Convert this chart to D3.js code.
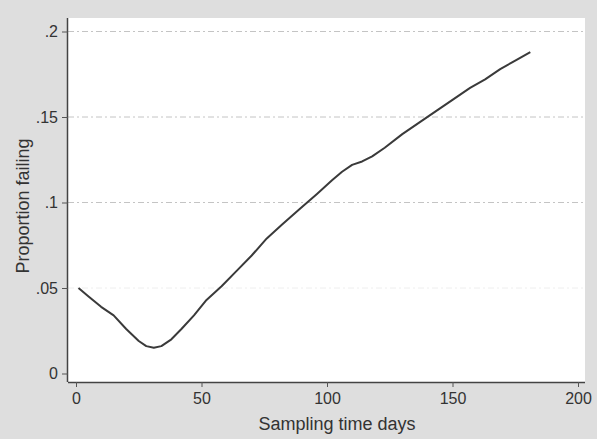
<!DOCTYPE html>
<html>
<head>
<meta charset="utf-8">
<script src="https://cdn.jsdelivr.net/npm/d3@7"></script>
<style>
  body { margin: 0; background: #dedede; }
  svg { display: block; font-family: "Liberation Sans", Arial, sans-serif; }
</style>
</head>
<body>
<svg></svg>
<script>
// values
const days = [1, 5, 10, 15, 20, 25, 28, 31, 34, 38, 42, 47, 52, 58, 64, 70, 76, 82, 89, 96,
  102, 106, 110, 114, 118, 123, 130, 137, 144, 150, 157, 163, 169, 175, 181];
const failing = [0.050, 0.045, 0.039, 0.034, 0.026, 0.019, 0.016, 0.015, 0.016, 0.020,
  0.026, 0.034, 0.043, 0.051, 0.060, 0.069, 0.079, 0.087, 0.096, 0.105,
  0.113, 0.118, 0.122, 0.124, 0.127, 0.132, 0.140, 0.147, 0.154, 0.160,
  0.167, 0.172, 0.178, 0.183, 0.188];
const xTicks = [0, 50, 100, 150, 200];
const yTicks = [0, 0.05, 0.1, 0.15, 0.2];
const yTickLabels = ["0", ".05", ".1", ".15", ".2"];

const width = 597, height = 439;
const margin = { top: 18, right: 12, bottom: 57, left: 68 };

const svg = d3.select("svg").attr("width", width).attr("height", height);

svg.append("rect").attr("width", width).attr("height", height).attr("fill", "#dedede");

const graphWidth = width - margin.left - margin.right;
const graphHeight = height - margin.top - margin.bottom;

const graph = svg.append("g")
  .attr("transform", `translate(${margin.left}, ${margin.top})`);

graph.append("rect")
  .attr("width", graphWidth)
  .attr("height", graphHeight)
  .attr("fill", "#ffffff");

const x = d3.scaleLinear().domain([0, 200]).range([8, 510]);
const y = d3.scaleLinear().domain([0, 0.2]).range([355.5, 13.5]);

// grid lines
graph.append("g")
  .selectAll("line")
  .data(yTicks.slice(1))
  .enter()
  .append("line")
  .attr("x1", 0)
  .attr("x2", graphWidth)
  .attr("y1", (d) => y(d))
  .attr("y2", (d) => y(d))
  .attr("stroke", (d) => (d === 0.05 ? "#eeeeee" : "#c4c4c4"))
  .attr("stroke-dasharray", "6,3,2,3");

const line = d3.line()
  .x((d, i) => x(days[i]))
  .y((d) => y(d))
  .curve(d3.curveLinear);

graph.append("path")
  .datum(failing)
  .attr("d", line)
  .attr("fill", "none")
  .attr("stroke", "#3a3a3a")
  .attr("stroke-width", 2)
  .attr("stroke-linejoin", "round");

const xAxis = d3.axisBottom(x).tickValues(xTicks).tickSize(5).tickPadding(6);
const yAxis = d3.axisLeft(y).tickValues(yTicks).tickSize(6).tickPadding(4)
  .tickFormat((d, i) => yTickLabels[i]);

const xAxisGroup = graph.append("g")
  .attr("transform", `translate(0, ${graphHeight})`)
  .call(xAxis);
xAxisGroup.select(".domain").attr("d", `M0,0.5H${graphWidth}`);

const yAxisGroup = graph.append("g").call(yAxis);
yAxisGroup.select(".domain").attr("d", `M-0.5,0V${graphHeight}`);

[xAxisGroup, yAxisGroup].forEach((g) => {
  g.select(".domain").attr("stroke", "#444").attr("stroke-width", 1.5);
  g.selectAll(".tick line").attr("stroke", "#555");
  g.selectAll(".tick text").attr("fill", "#333").style("font-size", "16px");
});

// axis titles
svg.append("text")
  .attr("x", 337)
  .attr("y", 430)
  .attr("text-anchor", "middle")
  .attr("fill", "#333")
  .style("font-size", "18px")
  .text("Sampling time days");

svg.append("text")
  .attr("transform", `translate(29, 206) rotate(-90)`)
  .attr("text-anchor", "middle")
  .attr("fill", "#333")
  .style("font-size", "18px")
  .text("Proportion failing");
</script>
</body>
</html>
